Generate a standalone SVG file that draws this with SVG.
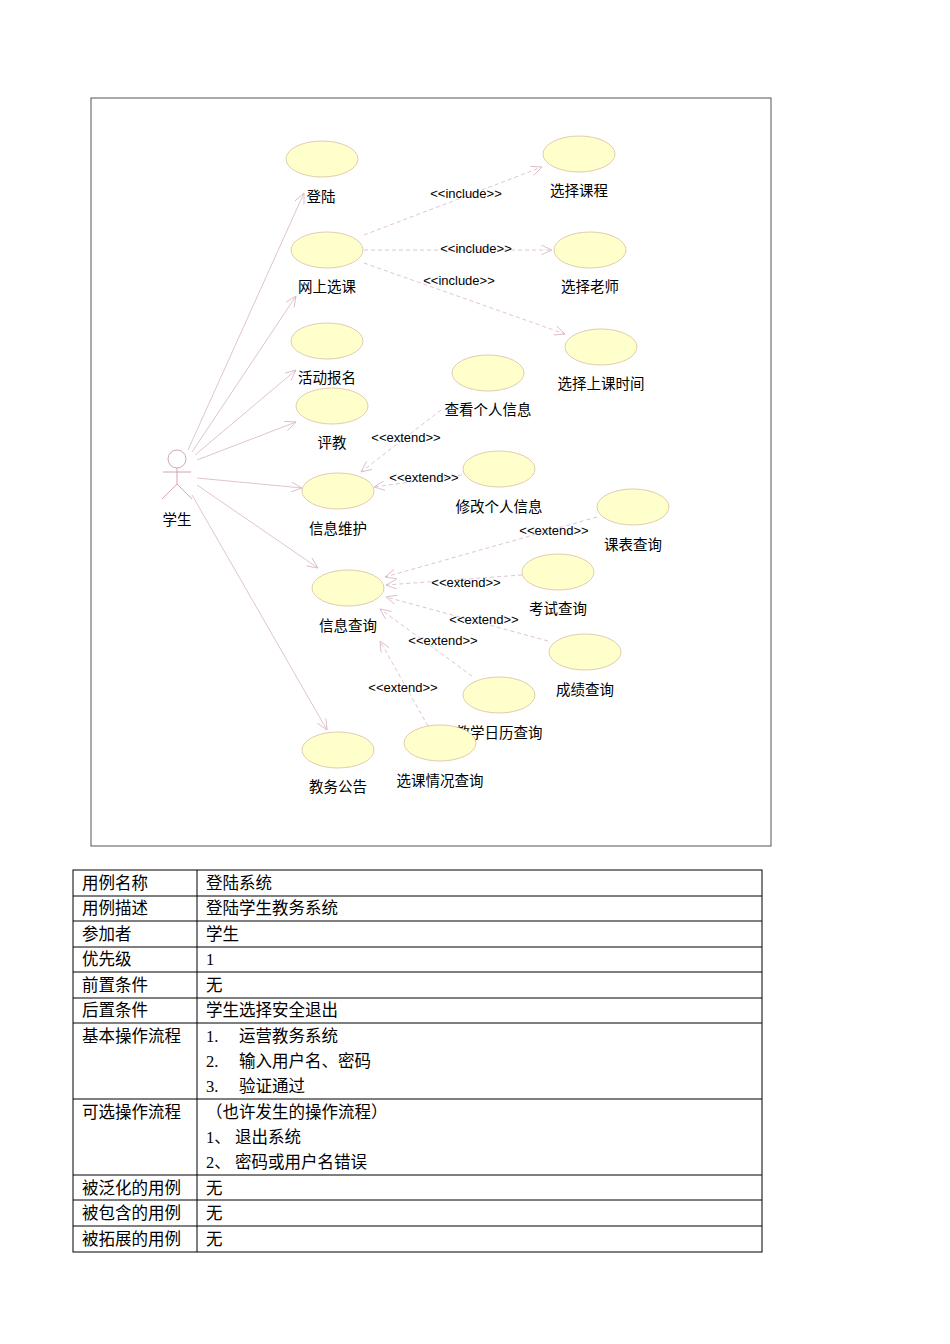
<svg xmlns="http://www.w3.org/2000/svg" width="950" height="1344" viewBox="0 0 950 1344">
<style>
.uc{fill:#ffffcc;stroke:#d9bfa0;stroke-width:0.8}
.t{font-family:"Noto Sans CJK SC",sans-serif;font-size:14.5px;fill:#000;text-anchor:middle}
.s{font-family:"Liberation Sans",sans-serif;font-size:13px;fill:#000;text-anchor:middle}
.a{stroke:#d8b4c4;stroke-width:0.8;fill:none;marker-end:url(#ah)}
.d{stroke:#d8b4c4;stroke-width:0.8;fill:none;stroke-dasharray:4,3;marker-end:url(#ah)}
.tb{font-family:"Liberation Serif","Noto Sans CJK SC",serif;font-size:16.5px;fill:#000}
.g{stroke:#000;stroke-width:1;fill:none}
</style>
<defs><marker id="ah" markerWidth="12" markerHeight="10" refX="11" refY="5" orient="auto" markerUnits="userSpaceOnUse"><path d="M0,0 L11,5 L0,10" fill="none" stroke="#d8b4c4" stroke-width="0.8"/></marker></defs>
<rect x="91" y="98" width="680" height="748" fill="#fff" stroke="#555" stroke-width="1"/>
<g id="connectors">
<line class="a" x1="188" y1="450" x2="304" y2="193"/>
<line class="a" x1="192" y1="452" x2="296" y2="296"/>
<line class="a" x1="195" y1="455" x2="296" y2="370"/>
<line class="a" x1="197" y1="460" x2="296" y2="422"/>
<line class="a" x1="197" y1="478" x2="302" y2="488"/>
<line class="a" x1="197" y1="485" x2="318" y2="568"/>
<line class="a" x1="192" y1="495" x2="327" y2="730"/>
<line class="d" x1="364" y1="235" x2="542" y2="167"/>
<line class="d" x1="364" y1="250" x2="552" y2="250"/>
<line class="d" x1="364" y1="263" x2="565" y2="334"/>
<line class="d" x1="441" y1="410" x2="361" y2="472"/>
<line class="d" x1="462" y1="475" x2="374" y2="487"/>
<line class="d" x1="597" y1="517" x2="385" y2="577"/>
<line class="d" x1="522" y1="575" x2="386" y2="585"/>
<line class="d" x1="548" y1="641" x2="386" y2="597"/>
<line class="d" x1="472" y1="676" x2="380" y2="609"/>
<line class="d" x1="428" y1="726" x2="380" y2="641"/>
<text class="s" x="466" y="198">&lt;&lt;include&gt;&gt;</text>
<text class="s" x="476" y="253">&lt;&lt;include&gt;&gt;</text>
<text class="s" x="459" y="285">&lt;&lt;include&gt;&gt;</text>
<text class="s" x="406" y="442">&lt;&lt;extend&gt;&gt;</text>
<text class="s" x="424" y="482">&lt;&lt;extend&gt;&gt;</text>
<text class="s" x="554" y="535">&lt;&lt;extend&gt;&gt;</text>
<text class="s" x="466" y="587">&lt;&lt;extend&gt;&gt;</text>
<text class="s" x="484" y="624">&lt;&lt;extend&gt;&gt;</text>
<text class="s" x="443" y="645">&lt;&lt;extend&gt;&gt;</text>
<text class="s" x="403" y="692">&lt;&lt;extend&gt;&gt;</text>
</g>
<g id="actor" stroke="#c8909c" stroke-width="0.8" fill="none">
<circle cx="177" cy="459" r="9"/><line x1="177" y1="468" x2="177" y2="484"/><line x1="163" y1="472" x2="191" y2="472"/><line x1="177" y1="484" x2="162" y2="499"/><line x1="177" y1="484" x2="192" y2="499"/>
<text class="t" x="177" y="525" stroke="none" fill="#000">学生</text></g>
<g id="uc1"><ellipse class="uc" cx="322" cy="159" rx="36" ry="18"/><text class="t" x="321" y="202">登陆</text></g>
<g id="uc2"><ellipse class="uc" cx="327" cy="250" rx="36" ry="18"/><text class="t" x="327" y="292">网上选课</text></g>
<g id="uc3"><ellipse class="uc" cx="327" cy="341" rx="36" ry="18"/><text class="t" x="327" y="383">活动报名</text></g>
<g id="uc4"><ellipse class="uc" cx="332" cy="406" rx="36" ry="18"/><text class="t" x="332" y="448">评教</text></g>
<g id="uc5"><ellipse class="uc" cx="338" cy="491" rx="36" ry="18"/><text class="t" x="338" y="534">信息维护</text></g>
<g id="uc6"><ellipse class="uc" cx="348" cy="588" rx="36" ry="18"/><text class="t" x="348" y="631">信息查询</text></g>
<g id="uc7"><ellipse class="uc" cx="338" cy="750" rx="36" ry="18"/><text class="t" x="338" y="792">教务公告</text></g>
<g id="uc8"><ellipse class="uc" cx="579" cy="154" rx="36" ry="18"/><text class="t" x="579" y="196">选择课程</text></g>
<g id="uc9"><ellipse class="uc" cx="590" cy="250" rx="36" ry="18"/><text class="t" x="590" y="292">选择老师</text></g>
<g id="uc10"><ellipse class="uc" cx="601" cy="347" rx="36" ry="18"/><text class="t" x="601" y="389">选择上课时间</text></g>
<g id="uc11"><ellipse class="uc" cx="488" cy="373" rx="36" ry="18"/><text class="t" x="488" y="415">查看个人信息</text></g>
<g id="uc12"><ellipse class="uc" cx="499" cy="469" rx="36" ry="18"/><text class="t" x="499" y="512">修改个人信息</text></g>
<g id="uc13"><ellipse class="uc" cx="633" cy="507" rx="36" ry="18"/><text class="t" x="633" y="550">课表查询</text></g>
<g id="uc14"><ellipse class="uc" cx="558" cy="572" rx="36" ry="18"/><text class="t" x="558" y="614">考试查询</text></g>
<g id="uc15"><ellipse class="uc" cx="585" cy="652" rx="36" ry="18"/><text class="t" x="585" y="695">成绩查询</text></g>
<g id="uc16"><ellipse class="uc" cx="499" cy="695" rx="36" ry="18"/><text class="t" x="499" y="738">教学日历查询</text></g>
<g id="uc17"><ellipse class="uc" cx="440" cy="743" rx="36" ry="18"/><text class="t" x="440" y="786">选课情况查询</text></g>
<g id="table">
<rect class="g" x="73" y="870" width="689" height="382"/>
<line class="g" x1="197" y1="870" x2="197" y2="1252"/>
<line class="g" x1="73" y1="896" x2="762" y2="896"/>
<line class="g" x1="73" y1="921" x2="762" y2="921"/>
<line class="g" x1="73" y1="947" x2="762" y2="947"/>
<line class="g" x1="73" y1="972" x2="762" y2="972"/>
<line class="g" x1="73" y1="998" x2="762" y2="998"/>
<line class="g" x1="73" y1="1023" x2="762" y2="1023"/>
<line class="g" x1="73" y1="1099" x2="762" y2="1099"/>
<line class="g" x1="73" y1="1175" x2="762" y2="1175"/>
<line class="g" x1="73" y1="1200" x2="762" y2="1200"/>
<line class="g" x1="73" y1="1226" x2="762" y2="1226"/>
<text class="tb" x="82" y="889">用例名称</text><text class="tb" x="206" y="889">登陆系统</text>
<text class="tb" x="82" y="914">用例描述</text><text class="tb" x="206" y="914">登陆学生教务系统</text>
<text class="tb" x="82" y="940">参加者</text><text class="tb" x="206" y="940">学生</text>
<text class="tb" x="82" y="965">优先级</text><text class="tb" x="206" y="965">1</text>
<text class="tb" x="82" y="991">前置条件</text><text class="tb" x="206" y="991">无</text>
<text class="tb" x="82" y="1016">后置条件</text><text class="tb" x="206" y="1016">学生选择安全退出</text>
<text class="tb" x="82" y="1042">基本操作流程</text>
<text class="tb" x="206" y="1042">1.</text><text class="tb" x="239" y="1042">运营教务系统</text>
<text class="tb" x="206" y="1067">2.</text><text class="tb" x="239" y="1067">输入用户名、密码</text>
<text class="tb" x="206" y="1092">3.</text><text class="tb" x="239" y="1092">验证通过</text>
<text class="tb" x="82" y="1118">可选操作流程</text>
<text class="tb" x="206" y="1118">（也许发生的操作流程）</text>
<text class="tb" x="206" y="1143">1、 退出系统</text>
<text class="tb" x="206" y="1168">2、 密码或用户名错误</text>
<text class="tb" x="82" y="1194">被泛化的用例</text><text class="tb" x="206" y="1194">无</text>
<text class="tb" x="82" y="1219">被包含的用例</text><text class="tb" x="206" y="1219">无</text>
<text class="tb" x="82" y="1245">被拓展的用例</text><text class="tb" x="206" y="1245">无</text>
</g>
</svg>
